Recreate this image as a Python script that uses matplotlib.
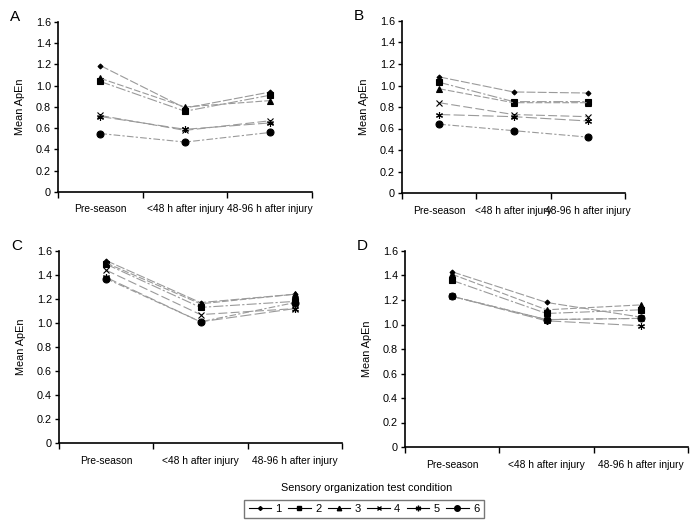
import numpy as np
import matplotlib
matplotlib.use("Agg")
from matplotlib import pyplot as plt
from matplotlib.lines import Line2D

plt.rcParams['font.family'] = ['Liberation Sans', 'DejaVu Sans']

# categories and series (sensory organization test conditions 1..6)
periods = ["Pre-season", "<48 h after injury", "48-96 h after injury"]
conditions = ["1", "2", "3", "4", "5", "6"]

panel_A = [
    [1.19, 0.79, 0.94],
    [1.04, 0.76, 0.91],
    [1.07, 0.80, 0.86],
    [0.72, 0.58, 0.67],
    [0.71, 0.59, 0.65],
    [0.55, 0.47, 0.56],
]
panel_B = [
    [1.08, 0.94, 0.93],
    [1.03, 0.85, 0.85],
    [0.97, 0.84, 0.84],
    [0.84, 0.73, 0.71],
    [0.73, 0.71, 0.67],
    [0.64, 0.58, 0.52],
]
panel_C = [
    [1.52, 1.17, 1.24],
    [1.49, 1.13, 1.18],
    [1.50, 1.16, 1.24],
    [1.44, 1.07, 1.12],
    [1.38, 1.01, 1.12],
    [1.37, 1.01, 1.17],
]
panel_D = [
    [1.43, 1.18, 1.06],
    [1.36, 1.09, 1.12],
    [1.41, 1.12, 1.16],
    [1.23, 1.04, 1.05],
    [1.23, 1.03, 0.99],
    [1.23, 1.04, 1.05],
]
panels = {"A": panel_A, "B": panel_B, "C": panel_C, "D": panel_D}

# marker style per condition: (marker, size)
styles = [("D", 2.5), ("s", 3.8), ("^", 4), ("x", 4), ((6, 2, 0), 5), ("o", 5)]
dashes = [(8, 2), (9, 2, 2, 2), (6, 2), (8, 3), (10, 3), (6, 2, 2, 2)]

# axes positions in pixels: left, right, top, bottom
boxes = {
    "A": (58, 312, 22, 192),
    "B": (402, 625, 21, 193),
    "C": (59, 342, 251, 443),
    "D": (405, 688, 251, 447),
}
W, H = 696, 524
fig = plt.figure(figsize=(W/100, H/100), dpi=100)

x = np.arange(3) + 0.5
for name, data in panels.items():
    l, r, t, b = boxes[name]
    ax = fig.add_axes([l/W, 1 - b/H, (r-l)/W, (b-t)/H])
    for i, vals in enumerate(data):
        m, ms = styles[i]
        ax.plot(x, vals, color="#9a9a9a", lw=0.8, dashes=dashes[i],
                marker=m, ms=ms, mfc="black", mec="black", mew=0.8, zorder=3)
    ax.set_xlim(0, 3)
    ax.set_ylim(0, 1.6)
    ax.set_yticks(np.arange(0, 1.61, 0.2))
    ax.set_yticklabels(["0"] + ["%.1f" % v for v in np.arange(0.2, 1.61, 0.2)])
    ax.set_xticks([0, 1, 2, 3])
    ax.set_xticklabels([])
    ax.set_xticks(x, minor=True)
    ax.set_xticklabels(periods, minor=True)
    ax.tick_params(axis="x", which="minor", length=0, pad=9, labelsize=7.4)
    ax.tick_params(axis="x", which="major", length=4, direction="out", width=1)
    ax.tick_params(axis="y", length=3, direction="out", width=1, labelsize=7.8, pad=2)
    for s in ["top", "right"]:
        ax.spines[s].set_visible(False)
    for s in ["left", "bottom"]:
        ax.spines[s].set_linewidth(1.2)
    ax.set_ylabel("Mean ApEn", fontsize=7.8, labelpad=8)
    fig.text((l - 48)/W, 1 - (t - 5)/H, name, fontsize=11, va="center", ha="left")

# legend
fig.text(367/W, 1 - 488/H, "Sensory organization test condition", fontsize=7.8,
         ha="center", va="center")
handles = [Line2D([], [], color="black", lw=0.8, marker=styles[i][0], ms=styles[i][1] * 0.8,
                  mfc="black", mec="black") for i in range(6)]
fig.legend(handles, conditions, loc="center", bbox_to_anchor=(364/W, 1 - 509/H),
           ncol=6, frameon=True, fancybox=False, edgecolor="#555555", fontsize=8,
           handlelength=2.0, handletextpad=0.4, columnspacing=0.6,
           borderpad=0.4)

fig.savefig("out.png", dpi=100)
